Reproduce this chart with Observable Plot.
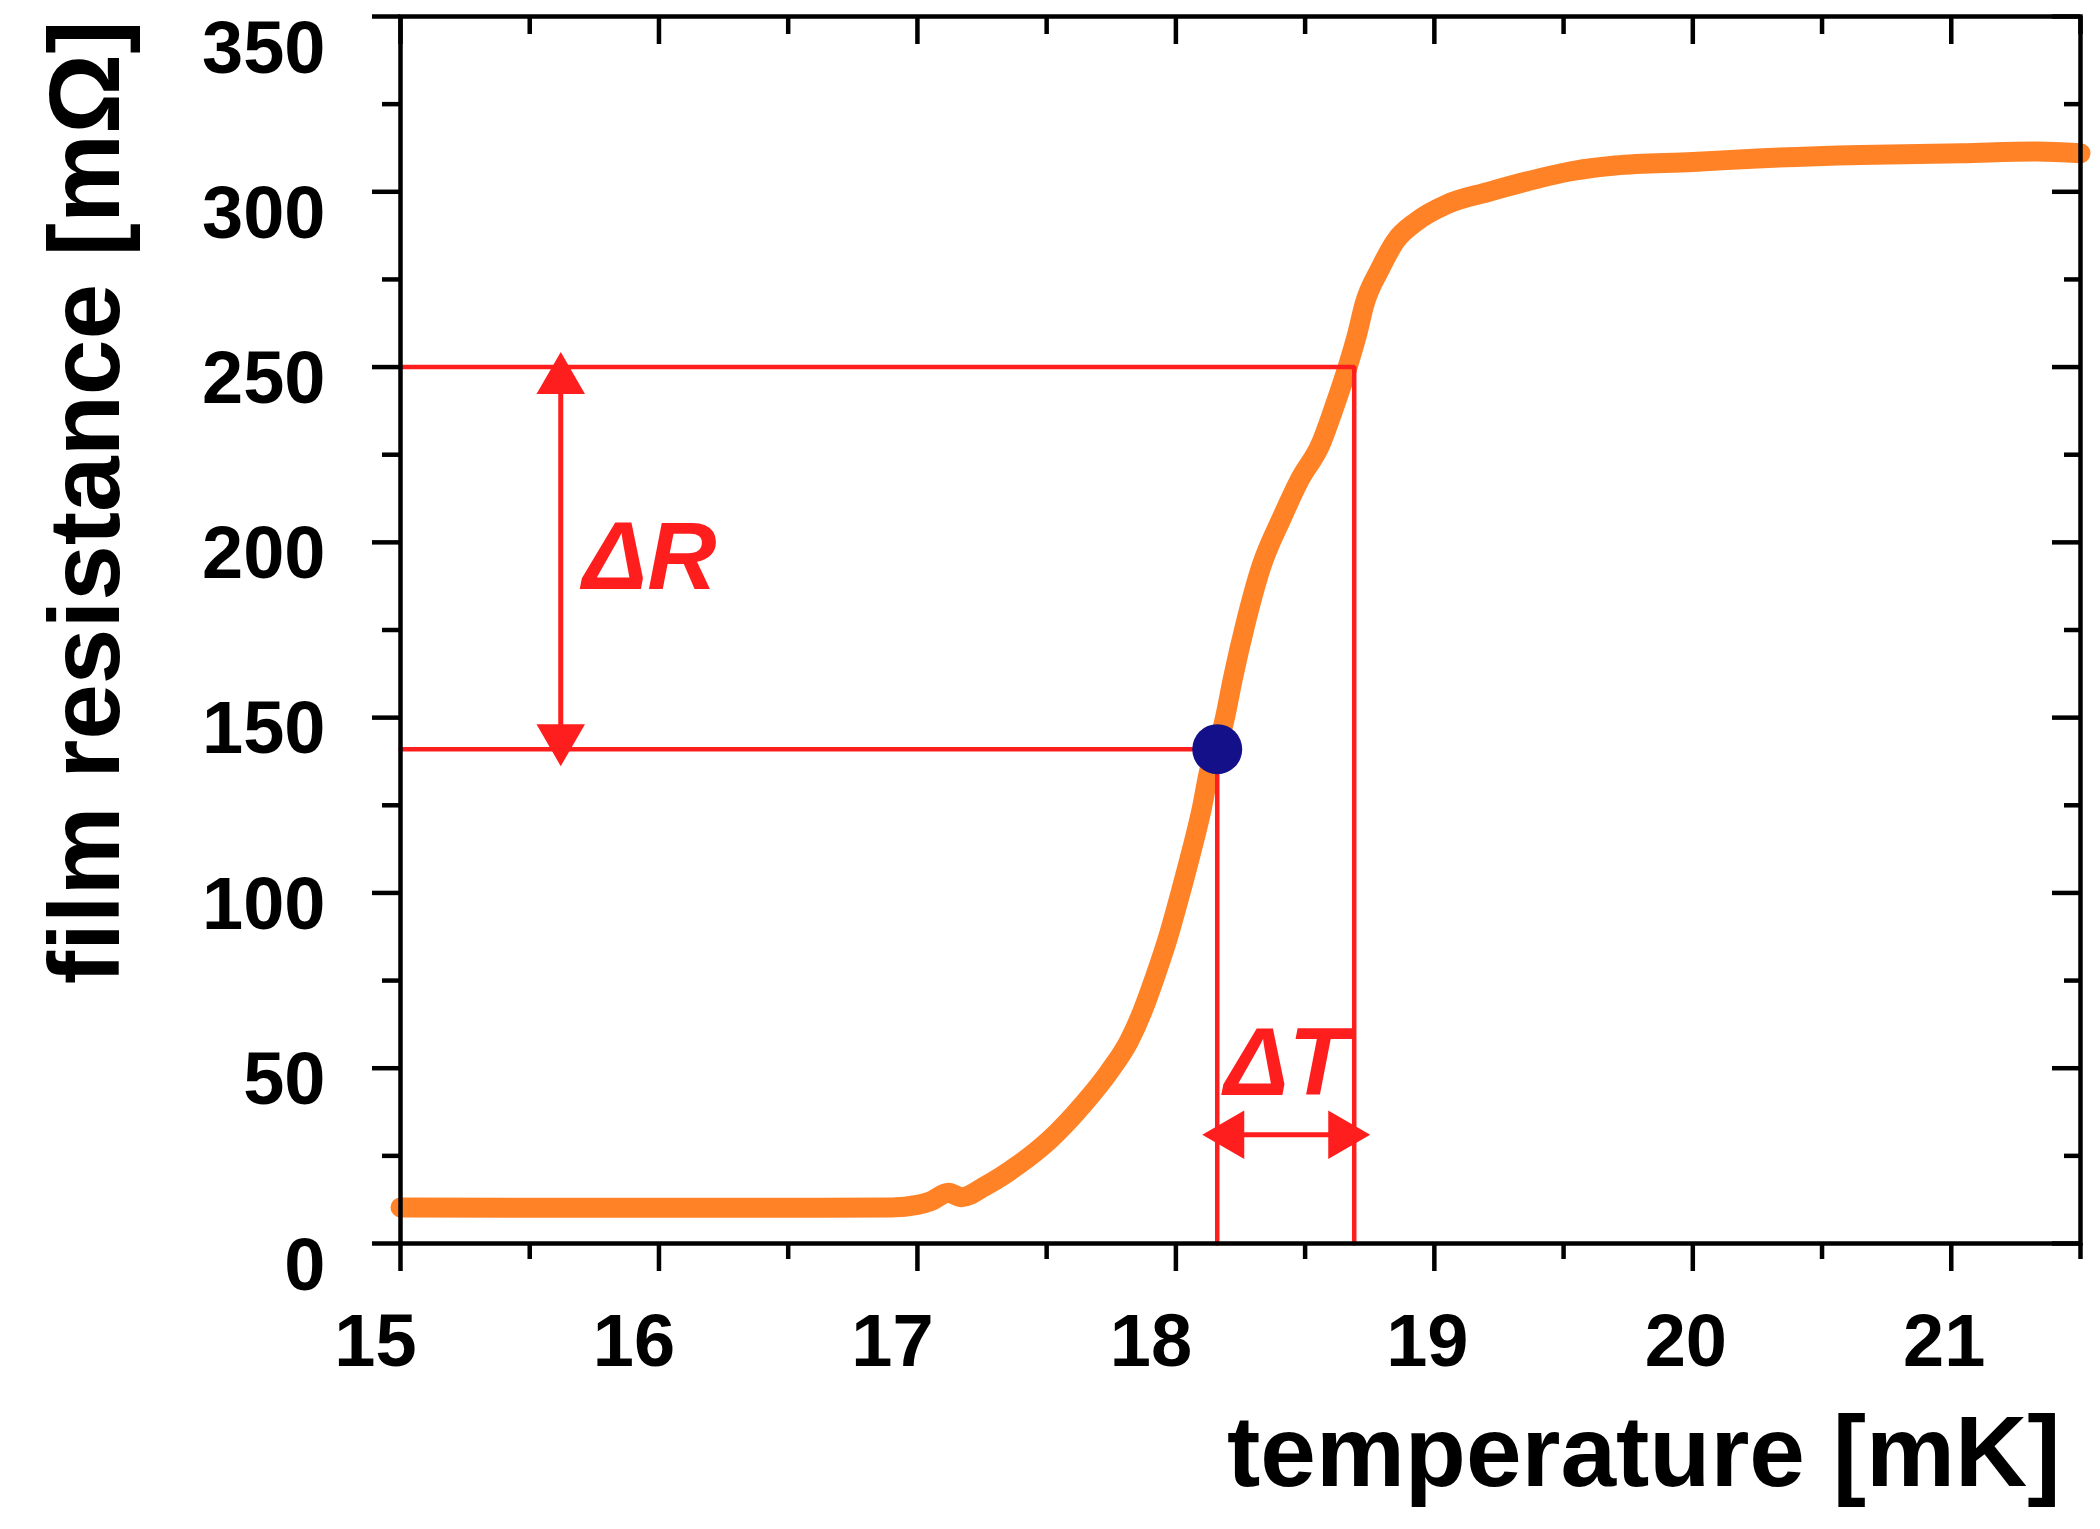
<!DOCTYPE html>
<html>
<head>
<meta charset="utf-8">
<script src="https://cdn.jsdelivr.net/npm/d3@7"></script>
<script src="https://cdn.jsdelivr.net/npm/@observablehq/plot@0.6"></script>
<style>
  html, body { margin: 0; padding: 0; background: #ffffff; }
  #chart svg { display: block; }
</style>
</head>
<body>
<div id="chart"></div>
<script>
// Film resistance across the superconducting transition (temperature in mK, resistance in mΩ)
const temperature = [15.0, 15.5, 16.0, 16.5, 16.9, 17.0, 17.05, 17.12, 17.17, 17.26, 17.39, 17.51, 17.64, 17.74, 17.82, 17.87, 17.92, 17.97, 18.02, 18.06, 18.10, 18.13, 18.16, 18.19, 18.22, 18.27, 18.33, 18.41, 18.48, 18.56, 18.61, 18.66, 18.70, 18.73, 18.79, 18.85, 18.93, 19.05, 19.21, 19.36, 19.54, 19.70, 20.0, 20.25, 20.65, 21.04, 21.33, 21.5];
const resistance = [10.3, 10.2, 10.2, 10.2, 10.3, 11, 12, 14.5, 13.2, 16.3, 22.4, 29.5, 39.6, 48.8, 57.9, 66.1, 76.2, 87.4, 100.6, 111.8, 124, 135.2, 141.3, 150, 161, 177, 193, 207, 218, 228, 238, 249, 259, 268, 278, 286, 291.5, 296.5, 300, 303, 306, 307.5, 308.5, 309.5, 310.5, 311, 311.5, 311];

// Axis ticks
const xMajorTicks = [15, 16, 17, 18, 19, 20, 21];
const xMinorTicks = [15.5, 16.5, 17.5, 18.5, 19.5, 20.5, 21.5];
const yMajorTicks = [0, 50, 100, 150, 200, 250, 300, 350];
const yMinorTicks = [25, 75, 125, 175, 225, 275, 325];

// Guide lines: transition point (Tc, Rc) and the upper reference point
const guideT = [18.16, 18.69];
const guideR = [141, 250];
// Where the ΔR and ΔT arrows sit
const deltaRArrowT = [15.62];
const deltaTArrowR = [31];

const ORANGE = "#FF8226";
const RED = "#FF1E1E";
const NAVY = "#14108A";
const FONT = "'Liberation Sans', Arial, Helvetica, sans-serif";

const curve = temperature.map((t, i) => ({T: t, R: resistance[i]}));

const xMin = 15;
const guides = guideT.flatMap((t, i) => [
  {g: i, T: xMin, R: guideR[i]},
  {g: i, T: t, R: guideR[i]},
  {g: i, T: t, R: 0}
]);

const dR = [{T: deltaRArrowT[0], R1: guideR[0], R2: guideR[1], Rm: (guideR[0] + guideR[1]) / 2}];
const dT = [{R: deltaTArrowR[0], T1: guideT[0], T2: guideT[1], Tm: (guideT[0] + guideT[1]) / 2}];

const head = (data, x, y, rotate, dx, dy) =>
  Plot.dot(data, {x, y, symbol: "triangle", r: 18, fill: RED, stroke: "none", rotate, dx, dy});

const tickStyle = {stroke: "black", strokeWidth: 4.5, fill: "none", label: null};
const labelStyle = {fontSize: 74, fontWeight: "bold", tickSize: 0, label: null, fill: "black", tickFormat: d3.format("d")};

const chart = Plot.plot({
  width: 2100,
  height: 1529,
  marginLeft: 400,
  marginRight: 20,
  marginTop: 16,
  marginBottom: 286,
  x: {domain: [15, 21.5]},
  y: {domain: [0, 350]},
  style: {fontFamily: FONT, fontSize: "74px", color: "black", background: "white"},
  marks: [
    // measured curve
    Plot.line(curve, {x: "T", y: "R", stroke: ORANGE, strokeWidth: 20, curve: "monotone-x", strokeLinecap: "round", strokeLinejoin: "round"}),

    // red guide lines
    Plot.line(guides, {x: "T", y: "R", z: "g", stroke: RED, strokeWidth: 4.5, strokeLinejoin: "miter"}),

    // ΔR double arrow
    Plot.ruleX(dR, {x: "T", y1: "R1", y2: "R2", stroke: RED, strokeWidth: 5}),
    head(dR, "T", "R2", 0, 0, 13),
    head(dR, "T", "R1", 180, 0, -11),
    Plot.text(dR, {x: "T", y: "Rm", text: () => "ΔR", textAnchor: "start", lineAnchor: "middle", dx: 22, fontSize: 96, fontWeight: "bold", fontStyle: "italic", fill: RED}),

    // ΔT double arrow
    Plot.ruleY(dT, {y: "R", x1: "T1", x2: "T2", stroke: RED, strokeWidth: 5}),
    head(dT, "T1", "R", -90, 13, 0),
    head(dT, "T2", "R", 90, -12, 0),
    Plot.text(dT, {x: "Tm", y: "R", text: () => "ΔT", textAnchor: "middle", lineAnchor: "bottom", dy: -40, fontSize: 96, fontWeight: "bold", fontStyle: "italic", fill: RED}),

    // transition point
    Plot.dot([{T: guideT[0], R: guideR[0]}], {x: "T", y: "R", r: 25, fill: NAVY, stroke: "none"}),

    // frame
    Plot.frame({stroke: "black", strokeWidth: 4.5}),

    // bottom axis: outward ticks
    Plot.axisX(xMajorTicks, {anchor: "bottom", tickSize: 28, ...tickStyle}),
    Plot.axisX(xMinorTicks, {anchor: "bottom", tickSize: 16, ...tickStyle}),
    Plot.axisX(xMajorTicks.slice(0, 4), {anchor: "bottom", tickPadding: 70, dx: -25, ...labelStyle}),
    Plot.axisX(xMajorTicks.slice(4), {anchor: "bottom", tickPadding: 70, dx: -7, ...labelStyle}),
    // top edge: inward ticks
    Plot.axisX(xMajorTicks, {anchor: "bottom", frameAnchor: "top", tickSize: 28, ...tickStyle}),
    Plot.axisX(xMinorTicks, {anchor: "bottom", frameAnchor: "top", tickSize: 18, ...tickStyle}),

    // left axis: outward ticks
    Plot.axisY(yMajorTicks, {anchor: "left", tickSize: 28, ...tickStyle}),
    Plot.axisY(yMinorTicks, {anchor: "left", tickSize: 18, ...tickStyle}),
    Plot.axisY(yMajorTicks.filter(v => v > 0 && v < 300), {anchor: "left", tickPadding: 75, dy: 12, ...labelStyle}),
    Plot.axisY(yMajorTicks.filter(v => v === 0 || v === 300), {anchor: "left", tickPadding: 75, dy: 23, ...labelStyle}),
    Plot.axisY(yMajorTicks.filter(v => v === 350), {anchor: "left", tickPadding: 75, dy: 33, ...labelStyle}),
    // right edge: inward ticks
    Plot.axisY(yMajorTicks, {anchor: "left", frameAnchor: "right", tickSize: 28, ...tickStyle}),
    Plot.axisY(yMinorTicks, {anchor: "left", frameAnchor: "right", tickSize: 16, ...tickStyle}),

    // axis titles
    Plot.text(["temperature [mK]"], {frameAnchor: "bottom-right", textAnchor: "end", lineAnchor: "bottom", dx: -20, dy: 242, fontSize: 100, fontWeight: "bold", fill: "black"}),
    Plot.text(["film resistance [mΩ]"], {frameAnchor: "top-left", rotate: -90, textAnchor: "end", lineAnchor: "bottom", dx: -282, dy: 4, fontSize: 100, fontWeight: "bold", fill: "black"})
  ]
});

document.getElementById("chart").appendChild(chart);
</script>
</body>
</html>
